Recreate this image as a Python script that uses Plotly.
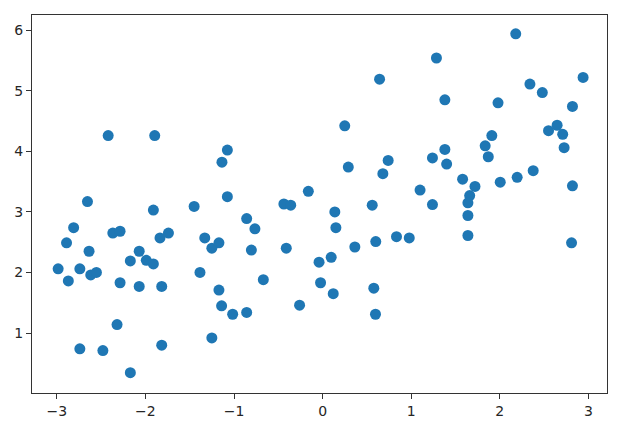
import plotly.graph_objects as go

x_vals = [-2.42, -1.895, -1.075, -1.136, -2.654, -1.91, -1.45, -1.075, -2.81, -2.89,
          -2.636, -2.985, -2.87, -2.74, -2.617, -2.553, -2.368, -2.286, -2.286, -2.17,
          -2.07, -1.99, -1.91, -2.07, -1.816, -1.835, -1.74, -2.32, -2.74, -2.48,
          -2.17, -1.816, -1.384, -1.33, -1.25, -1.17, -1.17, -1.14, -1.015, -1.25,
          -0.857, -0.857, -0.764, -0.804, -0.669, -0.437, -0.36, -0.41, -0.26, 0.138,
          0.15, -0.04, 0.097, -0.023, 0.12, 0.364, 0.56, 0.60, 0.578, 0.597,
          0.834, 0.978, 0.643, 0.25, 0.74, 0.29, 0.68, -0.161, 1.10, 2.18,
          1.285, 2.94, 2.34, 2.48, 1.38, 1.98, 2.82, 2.55, 2.647, 2.71,
          2.726, 1.91, 1.835, 1.87, 1.38, 1.24, 1.40, 2.377, 2.196, 2.005,
          1.58, 1.72, 2.82, 1.66, 1.64, 1.24, 1.64, 1.64, 2.81]
y_vals = [4.26, 4.26, 4.02, 3.82, 3.17, 3.03, 3.09, 3.25, 2.74, 2.49,
          2.35, 2.06, 1.86, 2.06, 1.96, 2.00, 2.65, 2.68, 1.83, 2.19,
          2.35, 2.20, 2.14, 1.77, 1.77, 2.57, 2.65, 1.14, 0.74, 0.71,
          0.345, 0.80, 2.00, 2.57, 2.40, 2.49, 1.71, 1.45, 1.31, 0.92,
          1.34, 2.89, 2.72, 2.37, 1.88, 3.13, 3.11, 2.40, 1.46, 3.00,
          2.74, 2.17, 2.25, 1.83, 1.65, 2.42, 3.11, 2.51, 1.74, 1.31,
          2.59, 2.57, 5.19, 4.42, 3.85, 3.74, 3.63, 3.34, 3.36, 5.94,
          5.54, 5.22, 5.11, 4.97, 4.85, 4.80, 4.74, 4.34, 4.43, 4.28,
          4.06, 4.26, 4.09, 3.91, 4.03, 3.89, 3.79, 3.68, 3.57, 3.49,
          3.54, 3.42, 3.43, 3.27, 3.15, 3.12, 2.94, 2.61, 2.49]

x_ticks = [-3, -2, -1, 0, 1, 2, 3]
x_tick_text = ["\u22123", "\u22122", "\u22121", "0", "1", "2", "3"]
y_ticks = [1, 2, 3, 4, 5, 6]

fig = go.Figure(go.Scatter(
    x=x_vals, y=y_vals, mode="markers",
    marker=dict(color="#1f77b4", size=11, line=dict(width=0)),
))

axis_common = dict(
    showgrid=False, zeroline=False, showline=True, linecolor="#333333",
    linewidth=1.2, mirror=True, ticks="outside", ticklen=5, tickwidth=1,
    tickcolor="#333333", tickfont=dict(family="DejaVu Sans", size=14, color="#262626"),
    automargin=False,
)

fig.update_layout(
    width=624, height=422,
    margin=dict(l=24, r=25, t=7, b=37),
    paper_bgcolor="white", plot_bgcolor="white",
    showlegend=False,
    xaxis=dict(range=[-3.28, 3.21], tickvals=x_ticks, ticktext=x_tick_text, **axis_common),
    yaxis=dict(range=[0.01, 6.25], tickvals=y_ticks, **axis_common),
)

fig.write_html("out.html")
